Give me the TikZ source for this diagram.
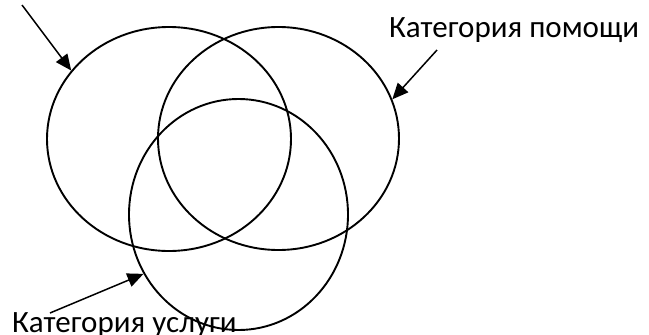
\documentclass[tikz,border=0pt]{standalone}
\usepackage{fontspec}
\setmainfont{Carlito}
\usetikzlibrary{arrows.meta,shapes.geometric}

\begin{document}
\begin{tikzpicture}[x=1pt,y=-1pt,
  ring/.style={draw,ellipse,line width=1.9pt,inner sep=0pt},
  lbl/.style={font=\fontsize{31}{37}\selectfont,inner sep=0pt,anchor=base west},
  ptr/.style={line width=1.5pt,-{Triangle[length=16pt,width=14pt]}}]
  \useasboundingbox (0,0) rectangle (649,335);
  \node[ring,minimum width=244pt,minimum height=224pt] (subj) at (169,139) {};
  \node[ring,minimum width=241pt,minimum height=223pt] (help) at (278.5,138.5) {};
  \node[ring,minimum width=219pt,minimum height=231pt] (serv) at (238.5,214.5) {};
  \node[lbl] (subjtext) at (14,-6) {Субъект правовой помощи};
  \node[lbl] (helptext) at (389,37) {Категория помощи};
  \node[lbl] (servtext) at (12,332) {Категория услуги};
  \coordinate (subjtail) at (22,5);
  \coordinate (helptail) at (437,50);
  \coordinate (servtail) at (50,313);
  \draw[ptr] (subjtail) -- (subj.145);
  \draw[ptr] (helptail) -- (help.19);
  \draw[ptr] (servtail) -- (serv.212);
\end{tikzpicture}
\end{document}
